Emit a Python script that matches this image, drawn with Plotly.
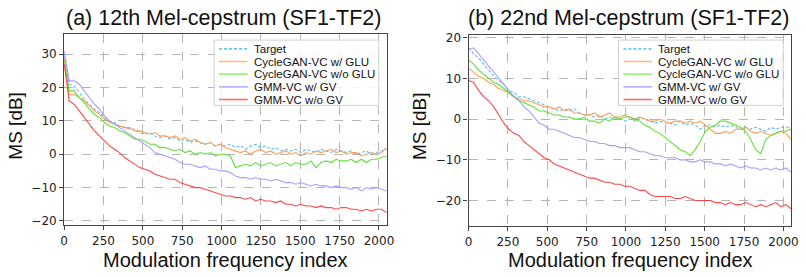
import plotly.graph_objects as go

# Modulation frequency index (sampled every 32 bins)
X_INDEX = list(range(0, 2049, 32))

# ---- (a) 12th Mel-cepstrum (SF1-TF2) ----
A_TARGET = [30, 21, 20.5, 18.5, 16.5, 15, 13.5, 12.5,
            11, 10, 9.5, 8.5, 8, 7.5, 7.5, 6.5,
            6, 6.5, 5.5, 5, 5.5, 4.5, 5, 4,
            4.5, 3.5, 4, 3.5, 3, 3.5, 2.5, 3,
            2.5, 3, 2, 2.5, 1.5, 2.5, 3, 2,
            2.5, 1.5, 2, 1, 1.5, 1, 1.5, 0.5,
            1.5, 1, 0.5, 1.5, 1, 0.5, 1.5, 1,
            0.5, 1, 0, 0.5, 1, 0, 0.5, 1,
            1.5]
A_GLU = [29, 18, 18, 17, 16, 14.5, 13, 12,
         10.5, 9.5, 9, 8.5, 8, 8, 7, 7,
         6.5, 6, 6.5, 5.5, 5.5, 5, 5.5, 4.5,
         5, 4, 4.5, 3.5, 3, 3.5, 2.5, 3,
         2, 1.5, 1, 0.5, 1, 0, 1, 1.5,
         0.5, 1, 0, 0.5, 1, 0, 0.5, -0.5,
         0.5, 0, 1, 0.5, 1, 1.5, 0.5, 1,
         0, 0.5, 0.5, -0.5, 0, 0.5, 0, 0.5,
         2]
A_NOGLU = [28, 19, 19, 17, 15.5, 13.5, 12, 11,
           9.5, 8.5, 8, 7, 6.5, 5.5, 4.5, 4.5,
           4, 3, 3, 2, 2, 1.5, 1, 1.5,
           0.5, 1, 0, 0.5, 0, 0.5, -0.5, 0,
           0, -0.5, -4, -3.5, -3, -3.5, -2.5, -3.5,
           -3, -2.5, -3.5, -3, -2.5, -3.5, -2.5, -3,
           -3, -2, -4, -2.5, -2, -2.5, -1.5, -2,
           -2, -1.5, -2.5, -1.5, -2.5, -1.5, -1.5, -1,
           -0.5]
A_GV = [31, 22, 22, 21, 19, 17, 15, 13.5,
        11.5, 10, 9, 8, 7, 6, 5, 4,
        3, 2, 0.5, 0, -0.5, -1, -1.5, -2.5,
        -3, -3, -3.5, -4, -3.5, -4.5, -4.5, -5,
        -5, -5.5, -6.5, -7, -7, -7.5, -7, -7.5,
        -7.5, -8, -7.5, -8, -8.5, -8.5, -9, -8.5,
        -9, -9.5, -9, -9.5, -9.5, -10, -9.5, -10,
        -10, -10.5, -10, -11, -10, -10.5, -10, -10.5,
        -11]
A_NOGV = [27, 16, 15, 13, 11, 9, 7, 5.5,
          4, 2.5, 1.5, 0.5, -1, -2, -3, -4,
          -4.5, -5, -6, -6.5, -7, -7.5, -7.5, -8.5,
          -9, -9.5, -10, -10, -10.5, -11, -11.5, -12,
          -12.5, -12.5, -13, -13, -13.5, -13, -14, -13.5,
          -14, -14, -14.5, -14, -15, -15, -15.5, -15,
          -15.5, -15.5, -16, -15.5, -16, -16, -16.5, -16,
          -16, -16.5, -16.5, -17, -16.5, -17, -16.5, -16.5,
          -17.5]

# ---- (b) 22nd Mel-cepstrum (SF1-TF2) ----
B_TARGET = [17.5, 16, 15, 13.5, 12, 10.5, 9.5, 8.5,
            7, 6.5, 5.5, 5.5, 5, 4.5, 4, 3.5,
            3, 2.5, 2, 2.5, 2, 2.5, 1.5, 1,
            1, 0.5, 1, 0, 0.5, 0, 0, -0.5,
            0, -0.5, 0.5, 0, -0.5, -1, -0.5, -1,
            -1, -1.5, -0.5, -1.5, -1, -1.5, -2.5, -1.5,
            -1.5, -2, -1.5, -2, -1.5, -2, -2.5, -2,
            -2.5, -2, -2.5, -3, -2, -2.5, -2, -2,
            -2]
B_GLU = [12.5, 11.5, 10.5, 10, 9, 8.5, 7.5, 7,
         6.5, 5.5, 5, 4.5, 4.5, 4, 3.5, 3,
         3, 2.5, 3, 2, 2.5, 1.5, 1.5, 1,
         1, 1.5, 0.5, 1, 1.5, 0.5, 0.5, 1,
         0.5, 0, 0.5, 0, -0.5, -0.5, 0, -0.5,
         -1, -0.5, -0.5, -1, -0.5, -1, -0.5, -1.5,
         -2.5, -3.5, -3.5, -3, -3.5, -2.5, -2.5, -2,
         -3, -3.5, -3, -3.5, -4, -3.5, -3, -3.5,
         -5]
B_NOGLU = [14.5, 13.5, 12, 11, 10, 9, 8.5, 7.5,
           6.5, 5.5, 4.5, 4, 3.5, 3, 2, 2,
           1.5, 1, 1, 0.5, 0.5, 0, 0, 0.5,
           -0.5, -0.5, -1, 0, -0.5, 0.5, 0, 0.5,
           0.5, 0, -0.5, -1.5, -2, -3, -3.5, -4.5,
           -5.5, -6.5, -7.5, -8, -9, -7.5, -5.5, -3,
           -2, -1.5, -0.5, -0.5, -1, -1.5, -2, -3,
           -5, -7.5, -8.5, -5, -4, -3.5, -3, -3,
           -2.5]
B_GV = [17, 17.5, 16, 14.5, 13, 11.5, 10, 8.5,
        7, 5.5, 4.5, 3, 2, 0.5, -1, -1.5,
        -2.5, -2.5, -3, -3.5, -4, -4.5, -4.5, -5,
        -5.5, -5.5, -6, -6, -6.5, -6.5, -7, -7,
        -7, -7.5, -8, -8, -8.5, -9, -9, -9.5,
        -9.5, -9.5, -10, -10, -10.5, -10.5, -10, -10.5,
        -10.5, -11, -11, -11.5, -11, -11.5, -12, -11.5,
        -12, -12, -12.5, -12, -12.5, -12, -12.5, -12,
        -13]
B_NOGV = [9.5, 9, 7, 5.5, 4.5, 3, 1, -1,
          -2.5, -3.5, -4, -5.5, -6.5, -7.5, -8.5, -9.5,
          -10, -11, -11.5, -12, -12.5, -13, -13.5, -14,
          -14.5, -14.5, -15, -15.5, -15.5, -16, -16, -16.5,
          -16.5, -17, -17.5, -17.5, -18.5, -19, -19, -19,
          -19, -19.5, -19.5, -19, -19.5, -20, -20, -20,
          -20, -20.5, -20.5, -21, -20.5, -21, -21, -20.5,
          -21, -21.5, -21, -21.5, -21, -20.5, -21.5, -21,
          -22]

SERIES_NAMES = ["Target", "CycleGAN-VC w/ GLU", "CycleGAN-VC w/o GLU",
                "GMM-VC w/ GV", "GMM-VC w/o GV"]
PANEL_A = [A_TARGET, A_GLU, A_NOGLU, A_GV, A_NOGV]
PANEL_B = [B_TARGET, B_GLU, B_NOGLU, B_GV, B_NOGV]
X_TICKS = [0, 250, 500, 750, 1000, 1250, 1500, 1750, 2000]
A_Y_TICKS = [-20, -10, 0, 10, 20, 30]
B_Y_TICKS = [-20, -10, 0, 10, 20]
TITLES = ["(a) 12th Mel-cepstrum (SF1-TF2)", "(b) 22nd Mel-cepstrum (SF1-TF2)"]

COLORS = ["#45b8f2", "#ff9545", "#4fe024", "#9d96ff", "#ff3535"]
DASHES = ["3px,2px", "solid", "solid", "solid", "solid"]
LEGEND_COLORS = ["#6cc6f5", "#ffba8a", "#9cee7c", "#b3adff", "#ff6a6a"]

for s in PANEL_A + PANEL_B:
    assert len(s) == len(X_INDEX)

W, H = 806, 277
def px(x):
    return x / W
def py(y):
    return 1 - y / H

fig = go.Figure()
for panel, (xa, ya) in zip([PANEL_A, PANEL_B], [("x", "y"), ("x2", "y2")]):
    for name, vals, c, d in zip(SERIES_NAMES, panel, COLORS, DASHES):
        fig.add_trace(go.Scatter(x=X_INDEX, y=vals, mode="lines", name=name,
                                 line=dict(color=c, width=1.1, dash=d),
                                 xaxis=xa, yaxis=ya, showlegend=False,
                                 opacity=0.9))

tickfont = dict(family="DejaVu Sans", size=12, color="#222")
common_x = dict(range=[0, 2049], tickvals=X_TICKS, showgrid=True, griddash="dash",
                gridcolor="#b5b5b5", gridwidth=1, zeroline=False, showline=True,
                linecolor="#444", linewidth=1.2, mirror=True, ticks="outside",
                ticklen=4, tickcolor="#444", tickfont=tickfont)
common_y = dict(showgrid=True, griddash="dash", gridcolor="#b5b5b5", gridwidth=1,
                zeroline=False, showline=True, linecolor="#444", linewidth=1.2,
                mirror=True, ticks="outside", ticklen=4, tickcolor="#444",
                tickfont=tickfont)

fig.update_layout(
    width=W, height=H, margin=dict(l=0, r=0, t=0, b=0),
    paper_bgcolor="white", plot_bgcolor="white",
    xaxis=dict(domain=[px(61), px(388)], anchor="y", **common_x),
    yaxis=dict(domain=[py(227), py(31)], anchor="x", range=[-21.3, 36],
               tickvals=A_Y_TICKS, **common_y),
    xaxis2=dict(domain=[px(471), px(798)], anchor="y2", **common_x),
    yaxis2=dict(domain=[py(228), py(32)], anchor="x2", range=[-26.3, 20.6],
                tickvals=B_Y_TICKS, **common_y),
)

annotations = []
shapes = []
label_font = dict(family="Liberation Sans, Arial", size=20, color="#111")
for i, off in enumerate([0, 410]):
    # titles
    annotations.append(dict(text=TITLES[i], x=px(223 + off), y=py(14), xref="paper",
                            yref="paper", showarrow=False, xanchor="center",
                            yanchor="middle",
                            font=dict(family="Liberation Sans, Arial", size=21.5,
                                      color="#111")))
    annotations.append(dict(text="Modulation frequency index", x=px(225 + off),
                            y=py(263), xref="paper", yref="paper", showarrow=False,
                            xanchor="center", yanchor="middle", font=label_font))
    annotations.append(dict(text="MS [dB]", x=px(12 + off), y=py(125), xref="paper",
                            yref="paper", showarrow=False, textangle=-90,
                            xanchor="center", yanchor="middle",
                            font=dict(family="Liberation Sans, Arial", size=19,
                                      color="#111")))
    # legend box
    lx0 = 213 + off
    shapes.append(dict(type="rect", xref="paper", yref="paper",
                       x0=px(lx0), x1=px(lx0 + 167), y0=py(37), y1=py(104),
                       line=dict(color="#d0d0d0", width=1),
                       fillcolor="rgba(255,255,255,0.85)", layer="above"))
    for k, name in enumerate(SERIES_NAMES):
        yy = 46 + 13 * k
        shapes.append(dict(type="line", xref="paper", yref="paper",
                           x0=px(lx0 + 5), x1=px(lx0 + 34), y0=py(yy), y1=py(yy),
                           line=dict(color=LEGEND_COLORS[k], width=1.6,
                                     dash=DASHES[k]), layer="above"))
        annotations.append(dict(text=name, x=px(lx0 + 38), y=py(yy), xref="paper",
                                yref="paper", showarrow=False, xanchor="left",
                                yanchor="middle",
                                font=dict(family="Liberation Sans, Arial", size=11.5,
                                          color="#111")))

fig.update_layout(annotations=annotations, shapes=shapes)
fig.write_html("out.html",
               config={"displayModeBar": False},
               post_script="document.body.style.margin='0';"
                           "document.body.style.overflow='hidden';")
